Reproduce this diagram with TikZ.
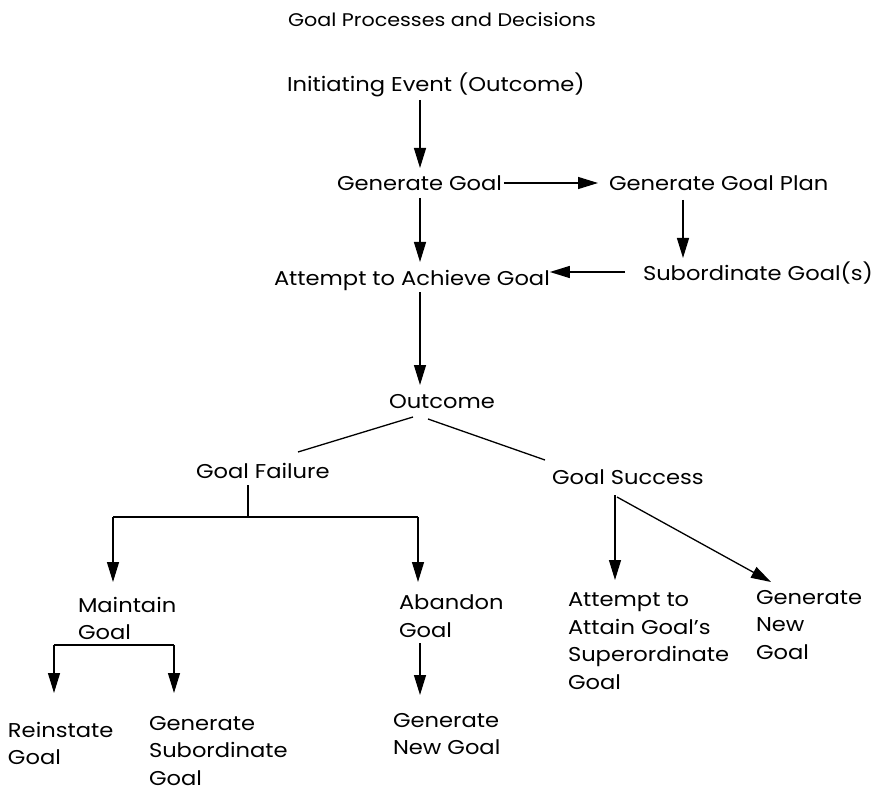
\documentclass[tikz,border=0pt]{standalone}
\usepackage{fontspec}
\setmainfont{Poppins}[FakeStretch=1.13]
\usetikzlibrary{arrows.meta}
\begin{document}
\begin{tikzpicture}[x=1pt,y=-1pt,
  every node/.style={inner sep=0pt, outer sep=0pt, font=\fontsize{20}{27.5}\selectfont},
  lbl/.style={anchor=west, text height=17pt, text depth=1pt},
  mlbl/.style={anchor=north west, align=left},
  link/.style={line width=1.3pt},
  arr/.style={line width=1.3pt, -{Triangle[length=20pt,width=12pt]}}]
\useasboundingbox (0,0) rectangle (874,791);

% labels
\node[lbl, font=\fontsize{18.3}{22}\selectfont] (title) at (288,19) {Goal Processes and Decisions};
\node[lbl] (init) at (287,84) {Initiating Event (Outcome)};
\node[lbl] (gengoal) at (337,183) {Generate Goal};
\node[lbl] (genplan) at (609,183) {Generate Goal Plan};
\node[lbl] (attempt) at (274,277) {Attempt to Achieve Goal};
\node[lbl] (subgoal) at (643,272) {Subordinate Goal(s)};
\node[lbl] (outcome) at (389,400) {Outcome};
\node[lbl] (failure) at (196,470) {Goal Failure};
\node[lbl] (success) at (552,476) {Goal Success};
\node[mlbl] (maintain) at (78,597) {Maintain\\Goal};
\node[mlbl] (abandon) at (399,595) {Abandon\\Goal};
\node[mlbl] (reinstate) at (8,722) {Reinstate\\Goal};
\node[mlbl] (gensub) at (149,716) {Generate\\Subordinate\\Goal};
\node[mlbl] (gennewA) at (393,713) {Generate\\New Goal};
\node[mlbl] (attain) at (568,593) {Attempt to\\Attain Goal's\\Superordinate\\Goal};
\node[mlbl] (gennewB) at (756,590) {Generate\\New\\Goal};

% junction points of the branch lines
\coordinate (fj) at (248,517);
\coordinate (fl) at (113,517);
\coordinate (fr) at (418,517);
\coordinate (ml) at (54,645);
\coordinate (mr) at (174,645);

% upper chain
\draw[arr] ([xshift=133pt,yshift=-7pt]init.south west) -- ([xshift=83pt,yshift=6pt]gengoal.north west);
\draw[arr] ([xshift=2pt]gengoal.east) -- ([xshift=-11pt]genplan.west);
\draw[arr] ([xshift=74pt,yshift=-8pt]genplan.south west) -- ([xshift=40pt,yshift=5pt]subgoal.north west);
\draw[arr] ([xshift=-18pt]subgoal.west) -- (attempt.east |- subgoal.west);
\draw[arr] ([xshift=83pt,yshift=-6pt]gengoal.south west) -- ([xshift=146pt,yshift=6pt]attempt.north west);
\draw[arr] ([xshift=146pt,yshift=-6pt]attempt.south west) -- ([xshift=31pt,yshift=6pt]outcome.north west);

% outcome branches
\draw[link] ([xshift=24pt,yshift=-8pt]outcome.south west) -- ([xshift=102pt,yshift=9pt]failure.north west);
\draw[link] ([xshift=39pt,yshift=-10pt]outcome.south west) -- ([xshift=-7pt,yshift=7pt]success.north west);

% failure branch
\draw[link] ([xshift=52pt,yshift=-6pt]failure.south west) -- (fj);
\draw[link] (fl) -- (fr);
\draw[arr] (fl) -- ([xshift=35pt,yshift=15pt]maintain.north west);
\draw[arr] (fr) -- ([xshift=19pt,yshift=13pt]abandon.north west);
\draw[link] (ml) -- (mr);
\draw[arr] (ml) -- ([xshift=46pt,yshift=29pt]reinstate.north west);
\draw[arr] (mr) -- ([xshift=25pt,yshift=23pt]gensub.north west);
\draw[arr] ([xshift=21pt,yshift=-6pt]abandon.south west) -- ([xshift=27pt,yshift=18pt]gennewA.north west);

% success branch
\draw[arr] ([xshift=63pt,yshift=-10pt]success.south west) -- ([xshift=47pt,yshift=13pt]attain.north west);
\draw[arr] ([xshift=65pt,yshift=-12pt]success.south west) -- ([xshift=15pt,yshift=8pt]gennewB.north west);
\end{tikzpicture}
\end{document}
